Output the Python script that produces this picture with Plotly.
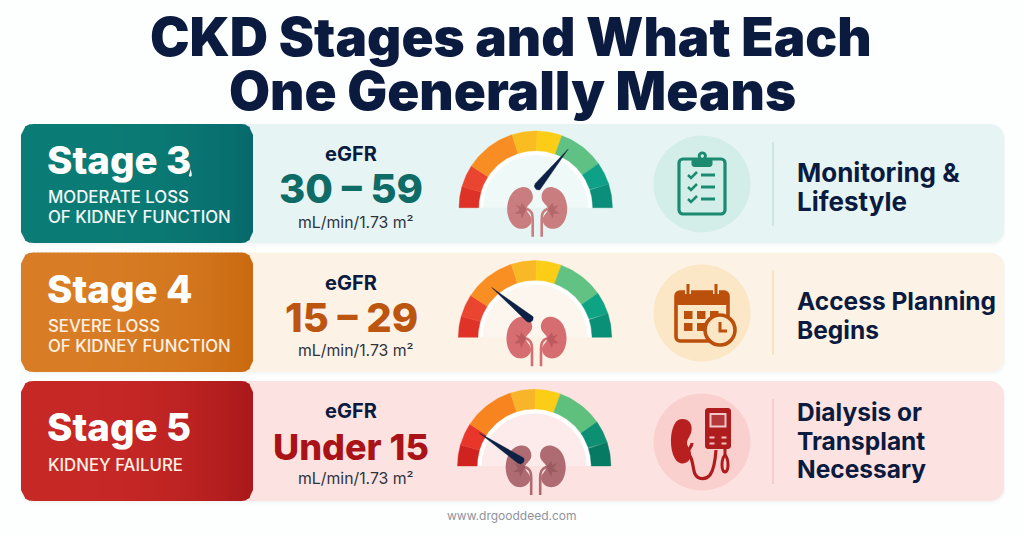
import math, re
import plotly.graph_objects as go

# ---------- data ----------
title_lines = ["CKD Stages and What Each", "One Generally Means"]
stages = ["Stage 3", "Stage 4", "Stage 5"]
stage_sub = [["MODERATE LOSS", "OF KIDNEY FUNCTION"], ["SEVERE LOSS", "OF KIDNEY FUNCTION"], ["KIDNEY FAILURE"]]
egfr_label = "eGFR"
egfr_ranges = ["30 – 59", "15 – 29", "Under 15"]
unit_label = "mL/min/1.73 m²"
actions = [["Monitoring &", "Lifestyle"], ["Access Planning", "Begins"], ["Dialysis or", "Transplant", "Necessary"]]
footer = "www.drgooddeed.com"
gauge_edges = [0, 16, 33, 72, 91, 110, 145, 162, 180]
gauge_colors = [
    ["#df3226", "#ea4530", "#f88d24", "#f9bd22", "#fccd17", "#5fc184", "#0fa187", "#0c8f7a"],
    ["#e03226", "#ea4530", "#f98e22", "#f9b926", "#fccd17", "#62c283", "#0ea384", "#0b9078"],
    ["#d02320", "#e8372a", "#f88420", "#f8b52a", "#fccd17", "#5fc07d", "#0c8f72", "#077a64"],
]
needle_deg = [119, 49, 31]
needle_len = [67, 66, 64]

# ---------- layout constants ----------
row_top = [124, 252.5, 381]
row_bot = [243, 372, 501]
panel_col = ["#e6f5f3", "#fdf2e6", "#fce3e2"]
card_left = ["#0b7c75", "#d87d25", "#c62826"]
card_right = ["#07686b", "#c9680f", "#a8181a"]
value_col = ["#0e6b66", "#bb5510", "#a91317"]
value_size = [40, 40, 36]
action_size = [26, 24.5, 24.5]
circle_col = ["#d3eee9", "#fbe6c5", "#fad0cf"]
sep_col = ["#c4dfdb", "#f3dfba", "#efc5c3"]
inner_col = ["#eff9f7", "#fdf6ee", "#fcebea"]
gauge_c = [(535.7, 207.7), (535.0, 337.3), (534.2, 466.0)]
needle_base = [(2.7, -21.7), (-5.7, -19), (-14, -6)]
kid_col = ["#c97d7f", "#d66d70", "#ae6c72"]
kid_dark = ["#b5686c", "#bd5a5f", "#9a5c62"]
icon_c = [(702, 184), (702, 313), (702, 442)]
NAVY = "#0b1a3f"
FONT = "Inter"

shapes = []
anns = []
traces = []


def num_map(d, ox, oy, mirror=None):
    idx = [0]
    def rep(m):
        v = float(m.group())
        i = idx[0]
        idx[0] += 1
        if i % 2 == 0:
            if mirror is not None:
                v = mirror - v
            return f"{v + ox:.2f}"
        return f"{v + oy:.2f}"
    return re.sub(r"-?\d+\.?\d*", rep, d)


def path(d, ox=0, oy=0, fill=None, stroke=None, w=0, mirror=None):
    s = dict(type="path", xref="x", yref="y", layer="below", path=num_map(d, ox, oy, mirror))
    s["fillcolor"] = fill if fill else "rgba(0,0,0,0)"
    s["line"] = dict(color=stroke or "rgba(0,0,0,0)", width=w)
    shapes.append(s)


def rrect_d(x0, y0, x1, y1, r):
    k = r * 0.448
    return (f"M {x0+r} {y0} L {x1-r} {y0} C {x1-k} {y0} {x1} {y0+k} {x1} {y0+r} L {x1} {y1-r} "
            f"C {x1} {y1-k} {x1-k} {y1} {x1-r} {y1} L {x0+r} {y1} C {x0+k} {y1} {x0} {y1-k} {x0} {y1-r} "
            f"L {x0} {y0+r} C {x0} {y0+k} {x0+k} {y0} {x0+r} {y0} Z")


def circle(cx, cy, r, fill=None, stroke=None, w=0):
    shapes.append(dict(type="circle", xref="x", yref="y", layer="below",
                       x0=cx - r, x1=cx + r, y0=cy - r, y1=cy + r,
                       fillcolor=fill or "rgba(0,0,0,0)",
                       line=dict(color=stroke or "rgba(0,0,0,0)", width=w)))


def text(x, y, s, size, color, weight=400, anchor="left", family=FONT):
    anns.append(dict(x=x, y=y, xref="x", yref="y", text=s, showarrow=False,
                     xanchor=anchor, yanchor="middle", align=anchor,
                     font=dict(family=family, size=size, color=color, weight=weight)))


def mix(a, b, t):
    ca = [int(a[i:i + 2], 16) for i in (1, 3, 5)]
    cb = [int(b[i:i + 2], 16) for i in (1, 3, 5)]
    return "#%02x%02x%02x" % tuple(round(p + (q - p) * t) for p, q in zip(ca, cb))


def wedge_xy(cx, cy, r0, r1, a0, a1, n=24):
    xs, ys = [], []
    for i in range(n + 1):
        t = math.radians(a0 + (a1 - a0) * i / n)
        xs.append(cx - r1 * math.cos(t)); ys.append(cy - r1 * math.sin(t))
    for i in range(n, -1, -1):
        t = math.radians(a0 + (a1 - a0) * i / n)
        xs.append(cx - r0 * math.cos(t)); ys.append(cy - r0 * math.sin(t))
    xs.append(xs[0]); ys.append(ys[0])
    return xs, ys


KIDNEY = ("M -14 -20.5 C -6 -21.5 -2 -15 -3 -9 C -4 -4 -9 -3 -9 1 C -9 6 -4 7 -4 12 "
          "C -4 18 -10 22 -16 21 C -24 20 -29 10 -28.5 0 C -28 -10 -23 -19 -14 -20.5 Z")
PELVIS = ("M -9 1 L -14 -5 L -15 -1 L -20 -3 L -16 2 L -21 6 L -15 6 L -14 11 L -11 5 Z")
URETER = "M -9 1 C -4 3 -3 6 -3 12 L -3 29"


def draw_kidneys(cx, cy, col, dark):
    for m in (None, 3):
        path(URETER, cx, cy, stroke=col, w=2.6, mirror=m)
        path(KIDNEY, cx, cy, fill=col, mirror=m)
        path(PELVIS, cx, cy, fill=dark, mirror=m)


# background rows
for i in range(3):
    y0, y1 = row_top[i], row_bot[i]
    for off, a in ((4, 0.012), (2.5, 0.015), (1, 0.02)):
        path(rrect_d(21 - off / 2, y0 + 1, 1004 + off / 2, y1 + off, 14), fill=f"rgba(60,70,90,{a})")
    path(rrect_d(230, y0, 1004, y1, 14), fill=panel_col[i])
    X0, X1, R = 21, 253, 11
    step = 4
    for k in range((X1 - X0) // step):
        a = X0 + k * step
        b = min(a + step + 0.6, X1)
        t = (k / ((X1 - X0) / step)) ** 3
        def inset(x):
            d = min(x - X0, X1 - x)
            if d >= R:
                return 0
            d = max(d, 0)
            return R - math.sqrt(max(R * R - (R - d) ** 2, 0))
        ia, ib = inset(a), inset(b)
        path(f"M {a} {y0+ia} L {b} {y0+ib} L {b} {y1-ib} L {a} {y1-ia} Z",
             fill=mix(card_left[i], card_right[i], t))
    path(f"M 773 {y0+18} L 773 {y1-17}", stroke=sep_col[i], w=1.4)
    circle(icon_c[i][0], icon_c[i][1], 48.5, fill=circle_col[i])

    # gauge
    cx, cy = gauge_c[i]
    xs, ys = wedge_xy(cx, cy, 52, 57.5, 0, 180)
    path("M " + " L ".join(f"{x:.2f} {y:.2f}" for x, y in zip(xs, ys)) + " Z", fill="#ffffff")
    xs, ys = wedge_xy(cx, cy, 0, 52.5, 0, 180)
    path("M " + " L ".join(f"{x:.2f} {y:.2f}" for x, y in zip(xs, ys)) + " Z", fill=inner_col[i])
    draw_kidneys(cx, cy, kid_col[i], kid_dark[i])
    for j, col in enumerate(gauge_colors[i]):
        xs, ys = wedge_xy(cx, cy, 57, 76.7, gauge_edges[j], gauge_edges[j + 1])
        traces.append(go.Scatter(x=xs, y=ys, mode="lines", fill="toself", fillcolor=col,
                                 line=dict(color=col, width=0.4), hoverinfo="skip", showlegend=False))
    # needle
    t = math.radians(needle_deg[i])
    tx, ty = cx - needle_len[i] * math.cos(t), cy - needle_len[i] * math.sin(t)
    bx, by = cx + needle_base[i][0], cy + needle_base[i][1]
    ang = math.atan2(ty - by, tx - bx)
    rad = 4.0
    nx, ny = [tx], [ty]
    for k in range(15):
        a = ang + math.pi / 2 + math.pi * k / 14
        nx.append(bx + rad * math.cos(a)); ny.append(by + rad * math.sin(a))
    nx.append(tx); ny.append(ty)
    traces.append(go.Scatter(x=nx, y=ny, mode="lines", fill="toself", fillcolor="#0c2145",
                             line=dict(color="#0c2145", width=0.4), hoverinfo="skip", showlegend=False))

# ---------- icons ----------
# clipboard
c = icon_c[0]; G = "#1b8a70"
path(rrect_d(-23, -25, 23, 30, 4), c[0], c[1], stroke=G, w=3.2)
path(rrect_d(-10.5, -26, 10.5, -17, 3), c[0], c[1], fill=G)
circle(c[0] + 0.3, c[1] - 28, 4.6, fill=G)
circle(c[0] + 0.3, c[1] - 28, 1.7, fill=circle_col[0])
for yy in (-9, 3, 15):
    path(f"M -14 {yy} L -11 {yy+3} L -5 {yy-3}", c[0], c[1], stroke=G, w=2.5)
    path(f"M -1 {yy} L 13 {yy}", c[0], c[1], stroke=G, w=3)

# calendar
c = icon_c[1]; O = "#bb4f0c"
path(rrect_d(-26, -21, 26, 28, 4), c[0], c[1], stroke=O, w=3.6)
path(rrect_d(-27, -22, 27, -8, 4), c[0], c[1], fill=O)
for xx in (-14, 14):
    path(f"M {xx} -29 L {xx} -19", c[0], c[1], stroke=circle_col[1], w=6)
    path(f"M {xx} -29 L {xx} -18", c[0], c[1], stroke=O, w=3)
for (xa, ya) in [(-18, -2), (-5, -2), (8, -2), (-18, 10), (-5, 10)]:
    path(f"M {xa} {ya} L {xa+8.5} {ya} L {xa+8.5} {ya+8} L {xa} {ya+8} Z", c[0], c[1], fill=O)
circle(c[0] + 18, c[1] + 17, 15, fill="#fbe6c5", stroke=O, w=3.6)
path("M 18 9 L 18 18 L 25 18", c[0], c[1], stroke=O, w=3)

# dialysis machine
c = icon_c[2]; Rd = "#ae1c1e"
path("M -10 1 C -10 6 -17 8 -12 14 C -9 18 -9 28 -7 32 C -4 38 4 38 8 33 C 11 29 13 22 14 8", c[0], c[1], stroke=Rd, w=3.2)
path("M -20 -23 C -11 -23 -9 -15 -11 -9 C -13 -4 -15 -2 -15 1 C -15 5 -11 7 -11 12 C -11 19 -17 23 -22 21 "
     "C -28 19 -31 9 -31 0 C -31 -11 -28 -23 -20 -23 Z", c[0], c[1], fill="#b8201f")
path(rrect_d(3, -34, 29, 7, 3), c[0], c[1], fill=Rd)
path("M 7.5 -29 L 24.5 -29 L 24.5 -14.5 L 7.5 -14.5 Z", c[0], c[1], fill="#f0c9c9")
path("M 9.5 -27 L 22.5 -27 L 22.5 -16.5 L 9.5 -16.5 Z", c[0], c[1], fill="#b5383a")
for bx_ in (10, 22):
    for by_ in (-4.5, 1.5):
        path(f"M {bx_-2.5} {by_-1} L {bx_+2.5} {by_-1} L {bx_+2.5} {by_+1} L {bx_-2.5} {by_+1} Z", c[0], c[1], fill="#f2c4c4")
path("M 23 7 L 23 14", c[0], c[1], stroke=Rd, w=3)
path("M 23 13 C 27 17 27 29 23 30 C 19 29 19 17 23 13 Z", c[0], c[1], stroke=Rd, w=3)

# ---------- text ----------
text(511, 37, title_lines[0], 53, NAVY, 900, "center")
text(512, 91, title_lines[1], 53, NAVY, 900, "center")

stage_y = [160, 289, 427]
sub_y = [[197, 217], [326, 346], [465]]
eg_y = [154, 283, 411]
val_y = [188, 317, 447]
unit_y = [222, 350, 478]
act_y = [[172, 201], [301, 330], [412, 441, 469]]
for i in range(3):
    text(45, stage_y[i], stages[i], 38.5, "#ffffff", 800)
    for s, y in zip(stage_sub[i], sub_y[i]):
        text(46, y, s, 16.8, "#f3f7f6" if i == 0 else "#fdf0e4", 500)
    text(351, eg_y[i], egfr_label, 20, NAVY, 700, "center")
    text(351, val_y[i], egfr_ranges[i], value_size[i], value_col[i], 800, "center")
    text(355.5, unit_y[i], unit_label, 15.8, "#2e3340", 400, "center")
    for s, y in zip(actions[i], act_y[i]):
        text(795, y, s, action_size[i], NAVY, 700)
text(512, 515, footer, 12, "#8f949c", 400, "center")
path("M 190.5 168 C 191 172 192.5 174 191.5 176 C 190.5 177.5 188.5 176.5 189 175 C 189.5 173 190.5 171 190.5 168 Z", fill="#ffffff")

fig = go.Figure(traces)
fig.update_layout(
    width=1024, height=536, margin=dict(l=0, r=0, t=0, b=0),
    paper_bgcolor="#fdfefe", plot_bgcolor="#fdfefe",
    xaxis=dict(range=[0, 1024], visible=False, fixedrange=True),
    yaxis=dict(range=[536, 0], visible=False, fixedrange=True),
    shapes=shapes, annotations=anns, showlegend=False,
)
fig.write_html("out.html", config={"displayModeBar": False},
               post_script="document.body.style.margin='0';document.body.style.overflow='hidden';")
